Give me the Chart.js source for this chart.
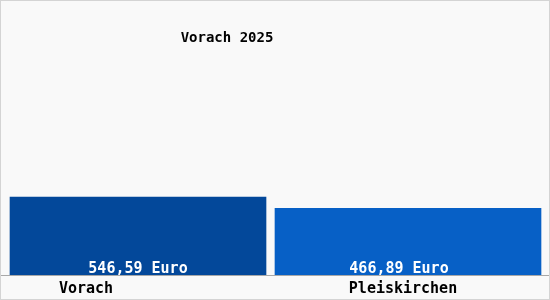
<!DOCTYPE html>
<html>
<head>
<meta charset="utf-8">
<script src="https://cdn.jsdelivr.net/npm/chart.js@4"></script>
<style>
  html, body { margin: 0; padding: 0; background: #fff; }
  #wrap { width: 550px; height: 300px; }
</style>
</head>
<body>
<div id="wrap"><canvas id="lohnChart"></canvas></div>
<script>
const titleText = 'Vorach 2025';
const places = ['Vorach', 'Pleiskirchen'];
const amounts = [546.59, 466.89];
const valueLabels = ['546,59 Euro', '466,89 Euro'];
const barColors = ['#03489a', '#0760c6'];

// small offsets so labels sit like in the original
const nameShift = [-52, -5];
const valueShift = [0, -9];

const decoPlugin = {
  id: 'deco',
  beforeDraw(chart) {
    const c = chart.ctx;
    c.save();
    c.fillStyle = '#f9f9f9';
    c.fillRect(0, 0, chart.width, chart.height);
    c.strokeStyle = '#d4d4d4';
    c.lineWidth = 1;
    c.strokeRect(0.5, 0.5, chart.width - 1, chart.height - 1);
    c.restore();
  },
  afterDraw(chart) {
    const c = chart.ctx;
    const x = chart.scales.x;
    const area = chart.chartArea;
    c.save();
    // baseline
    c.strokeStyle = '#a8a8a8';
    c.lineWidth = 1;
    c.beginPath();
    c.moveTo(1, area.bottom + 0.5);
    c.lineTo(chart.width - 1, area.bottom + 0.5);
    c.stroke();

    c.textAlign = 'center';
    c.textBaseline = 'middle';
    c.font = 'bold 14px "DejaVu Sans Mono"';
    c.fillStyle = '#000';
    c.fillText(titleText, 227, 38);

    c.font = 'bold 15px "DejaVu Sans Mono"';
    chart.data.datasets.forEach((ds, i) => {
      const bar = chart.getDatasetMeta(i).data[i];
      c.fillStyle = '#fff';
      c.fillText(valueLabels[i], bar.x + valueShift[i], area.bottom - 6);
      c.fillStyle = '#000';
      c.fillText(places[i], x.getPixelForValue(i) + nameShift[i], area.bottom + 14);
    });
    c.restore();
  }
};

new Chart(document.getElementById('lohnChart'), {
  type: 'bar',
  data: {
    labels: places,
    datasets: [
      { data: [amounts[0], null], backgroundColor: barColors[0], barThickness: 256, grouped: false, borderWidth: 0 },
      { data: [null, amounts[1]], backgroundColor: barColors[1], barThickness: 266, grouped: false, borderWidth: 0 }
    ]
  },
  options: {
    responsive: true,
    maintainAspectRatio: false,
    animation: false,
    layout: { padding: { left: 3, right: 7, top: 4, bottom: 25 } },
    plugins: { legend: { display: false }, title: { display: false }, tooltip: { enabled: false } },
    scales: {
      x: { display: false },
      y: { display: false, min: 0, max: 1900 }
    }
  },
  plugins: [decoPlugin]
});
</script>
</body>
</html>
